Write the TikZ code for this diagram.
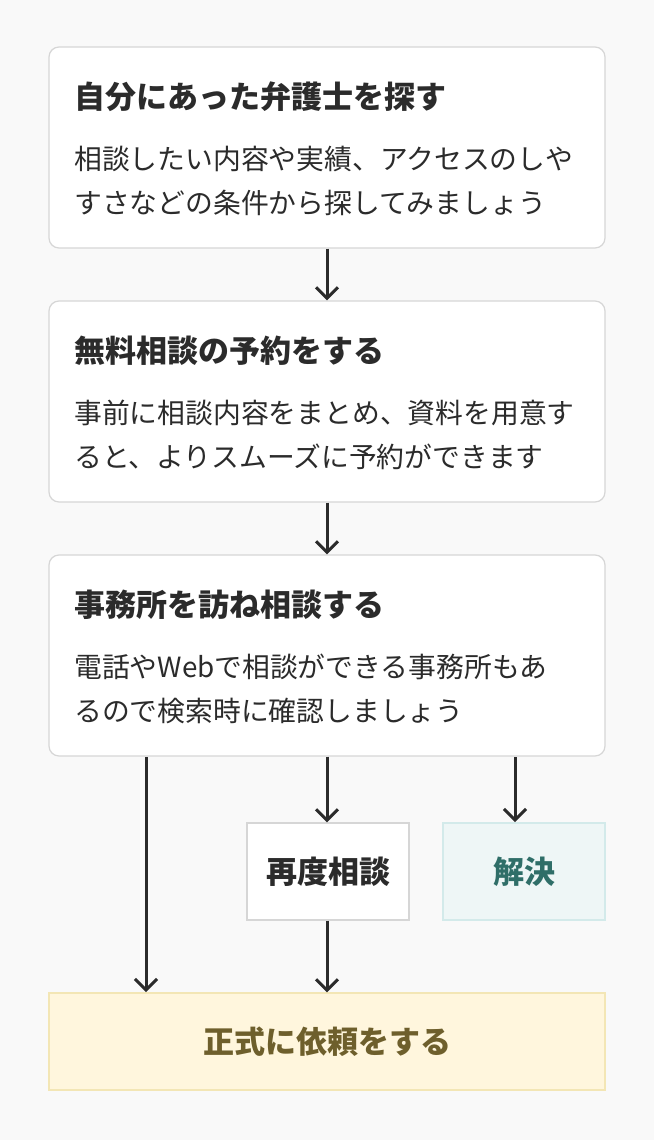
\documentclass[tikz,border=0pt]{standalone}
\usepackage{fontspec}
\setmainfont{Noto Sans CJK JP}
\usetikzlibrary{arrows.meta}
\definecolor{bg}{HTML}{F9F9F9}
\definecolor{bd}{HTML}{D6D6D6}
\definecolor{txt}{HTML}{2B2B2B}
\definecolor{tealf}{HTML}{EEF6F6}
\definecolor{tealb}{HTML}{D3EAEA}
\definecolor{tealt}{HTML}{2F6E68}
\definecolor{yelf}{HTML}{FFF6DD}
\definecolor{yelb}{HTML}{F3E6B5}
\definecolor{yelt}{HTML}{6E5F2C}
\begin{document}
\begin{tikzpicture}[x=1pt,y=-1pt,
  card/.style={draw=bd,line width=1.2pt,fill=white,rounded corners=10pt,minimum width=556pt,minimum height=201pt,inner sep=0pt},
  sbox/.style={draw=bd,line width=1.2pt,fill=white,minimum width=162pt,minimum height=97pt,inner sep=0pt,font=\fontsize{31}{36}\selectfont\bfseries,text=txt},
  ttl/.style={anchor=base west,font=\fontsize{31}{36}\selectfont\bfseries,text=txt,inner sep=0pt},
  bdy/.style={anchor=base west,font=\fontsize{27.8}{32}\selectfont,text=txt,inner sep=0pt},
  arr/.style={draw=txt,line width=3pt,-{Straight Barb[length=11pt,width=22pt,line width=3pt]}}]
\fill[bg] (0,0) rectangle (654,1140);
\node[card] (b1) at (327,147.5) {};
\node[card] (b2) at (327,401.5) {};
\node[card] (b3) at (327,655.5) {};
\node[ttl] (t1) at (74,108) {自分にあった弁護士を探す};
\node[bdy] (l11) at (74,169) {相談したい内容や実績、アクセスのしや};
\node[bdy] (l12) at (74,213) {すさなどの条件から探してみましょう};
\node[ttl] (t2) at (74,362) {無料相談の予約をする};
\node[bdy] (l21) at (74,423) {事前に相談内容をまとめ、資料を用意す};
\node[bdy] (l22) at (74,467) {ると、よりスムーズに予約ができます};
\node[ttl] (t3) at (74,616) {事務所を訪ね相談する};
\node[bdy] (l31) at (74,677) {電話やWebで相談ができる事務所もあ};
\node[bdy] (l32) at (74,721) {るので検索時に確認しましょう};
\node[sbox] (re) at (328,871.5) {再度相談};
\node[sbox,fill=tealf,draw=tealb,text=tealt] (ks) at (524,871.5) {解決};
\node[draw=yelb,line width=1.2pt,fill=yelf,minimum width=556pt,minimum height=97pt,inner sep=0pt,font=\fontsize{31}{36}\selectfont\bfseries,text=yelt] (fin) at (327,1041.5) {正式に依頼をする};
\coordinate (ka) at (515,757);
\coordinate (kb) at (515,822);
\coordinate (la) at (146,757);
\coordinate (lb) at (146,992);
\draw[arr] (b1.south) -- (b2.north);
\draw[arr] (b2.south) -- (b3.north);
\draw[arr] (b3.south) -- (b3.south |- re.north);
\draw[arr] (ka) -- (kb);
\draw[arr] (la) -- (lb);
\draw[arr] (b3.south |- re.south) -- (b3.south |- fin.north);
\end{tikzpicture}
\end{document}
